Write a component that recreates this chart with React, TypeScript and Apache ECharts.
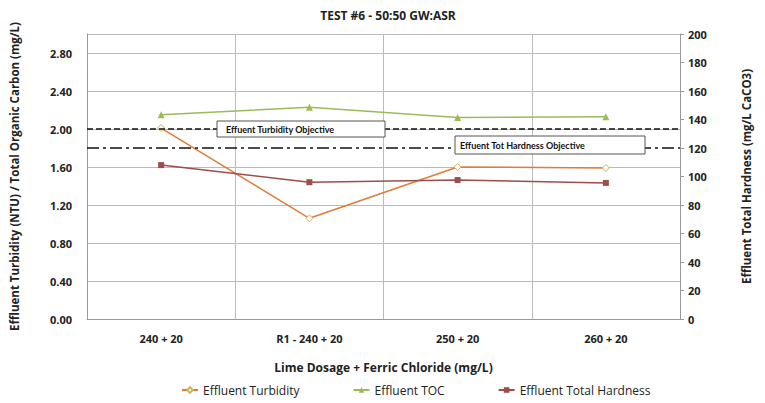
import React, { useEffect, useRef } from "react";
import * as echarts from "echarts";

const categories = ["240 + 20", "R1 - 240 + 20", "250 + 20", "260 + 20"];
const turbidity = [2.01, 1.06, 1.6, 1.59];
const toc = [2.15, 2.23, 2.12, 2.13];
const hardness = [108, 96, 97.5, 95.5];
const turbidityObjective = 2.0;
const hardnessObjective = 120;

const FONT = "'Open Sans', 'Liberation Sans', sans-serif";

export default function App() {
  const ref = useRef<HTMLDivElement>(null);
  useEffect(() => {
    if (!ref.current) return;
    const chart = echarts.init(ref.current, null, { renderer: "svg" });
    chart.setOption({
      animation: false,
      backgroundColor: "#ffffff",
      textStyle: { fontFamily: FONT },
      title: {
        text: "TEST #6 - 50:50 GW:ASR",
        left: 383,
        top: 4,
        textAlign: "center",
        textStyle: { fontSize: 12, fontWeight: "bold", color: "#222", fontFamily: FONT },
      },
      grid: { left: 87, right: 85, top: 34, bottom: 84, containLabel: false },
      legend: {
        bottom: 2,
        left: 176,
        itemGap: 53,
        itemWidth: 16,
        itemHeight: 7,
        textStyle: { fontSize: 12, color: "#222", fontFamily: FONT },
        data: ["Effluent Turbidity", "Effluent TOC", "Effluent Total Hardness"],
      },
      xAxis: {
        type: "category",
        data: categories,
        boundaryGap: true,
        name: "Lime Dosage + Ferric Chloride (mg/L)",
        nameLocation: "middle",
        nameGap: 42,
        nameTextStyle: { fontSize: 12, fontWeight: "bold", color: "#222" },
        axisLine: { lineStyle: { color: "#999" } },
        axisTick: { show: false },
        axisLabel: { fontSize: 11, fontWeight: "bold", color: "#222", margin: 14 },
        splitLine: { show: true, lineStyle: { color: "#bbb" } },
      },
      yAxis: [
        {
          type: "value",
          min: 0,
          max: 3.0,
          interval: 0.4,
          name: "Effluent Turbidity (NTU) / Total Organic Carbon (mg/L)",
          nameLocation: "middle",
          nameGap: 67,
          nameTextStyle: { fontSize: 11.5, fontWeight: "bold", color: "#222" },
          axisLine: { show: true, lineStyle: { color: "#999" } },
          axisTick: { show: false },
          axisLabel: {
            fontSize: 11,
            fontWeight: "bold",
            color: "#222",
            margin: 15,
            formatter: (v: number) => (v > 2.9 ? "" : v.toFixed(2)),
          },
          splitLine: { show: true, lineStyle: { color: "#bbb" } },
        },
        {
          type: "value",
          min: 0,
          max: 200,
          interval: 20,
          name: "Effluent Total Hardness (mg/L CaCO3)",
          nameLocation: "middle",
          nameGap: 60,
          nameRotate: 90,
          nameTextStyle: { fontSize: 11.5, fontWeight: "bold", color: "#222" },
          axisLine: { show: true, lineStyle: { color: "#999" } },
          axisTick: { show: true, inside: false, length: 4, lineStyle: { color: "#999" } },
          axisLabel: { fontSize: 11, fontWeight: "bold", color: "#222", margin: 8 },
          splitLine: { show: false },
        },
      ],
      series: [
        {
          name: "Effluent Turbidity",
          type: "line",
          yAxisIndex: 0,
          data: turbidity,
          symbol: "diamond",
          symbolSize: 7,
          lineStyle: { color: "#E07B39", width: 1.5 },
          itemStyle: { color: "#ffffff", borderColor: "#C8B560", borderWidth: 1 },
          markLine: {
            silent: true,
            symbol: "none",
            label: { show: false },
            lineStyle: { color: "#111", type: [6, 3], width: 1.5 },
            data: [{ yAxis: turbidityObjective }],
          },
          z: 3,
        },
        {
          name: "Effluent TOC",
          type: "line",
          yAxisIndex: 0,
          data: toc,
          symbol: "triangle",
          symbolSize: 7,
          lineStyle: { color: "#9BBB59", width: 1.5 },
          itemStyle: { color: "#9BBB59" },
          z: 3,
        },
        {
          name: "Effluent Total Hardness",
          type: "line",
          yAxisIndex: 1,
          data: hardness,
          symbol: "rect",
          symbolSize: 6,
          lineStyle: { color: "#9B4E4C", width: 1.5 },
          itemStyle: { color: "#9B4E4C" },
          markLine: {
            silent: true,
            symbol: "none",
            label: { show: false },
            lineStyle: { color: "#111", type: [12, 4, 3, 4], width: 1.5 },
            data: [{ yAxis: hardnessObjective }],
          },
          z: 3,
        },
      ],
      graphic: [
        {
          type: "rect",
          shape: { x: 217, y: 121, width: 168, height: 16 },
          style: { fill: "#ffffff", stroke: "#555", lineWidth: 1 },
          z: 10,
        },
        {
          type: "text",
          x: 226,
          y: 129,
          style: {
            text: "Effuent Turbidity Objective",
            fill: "#111",
            font: "bold 9px Lato, sans-serif",
            verticalAlign: "middle",
          },
          z: 11,
        },
        {
          type: "rect",
          shape: { x: 455, y: 136, width: 190, height: 18 },
          style: { fill: "#ffffff", stroke: "#555", lineWidth: 1 },
          z: 10,
        },
        {
          type: "text",
          x: 460,
          y: 145,
          style: {
            text: "Effuent Tot Hardness Objective",
            fill: "#111",
            font: "bold 9px Lato, sans-serif",
            verticalAlign: "middle",
          },
          z: 11,
        },
      ],
    });
    return () => chart.dispose();
  }, []);
  return <div ref={ref} style={{ width: 765, height: 403, position: "absolute", left: 0, top: 0 }} />;
}
